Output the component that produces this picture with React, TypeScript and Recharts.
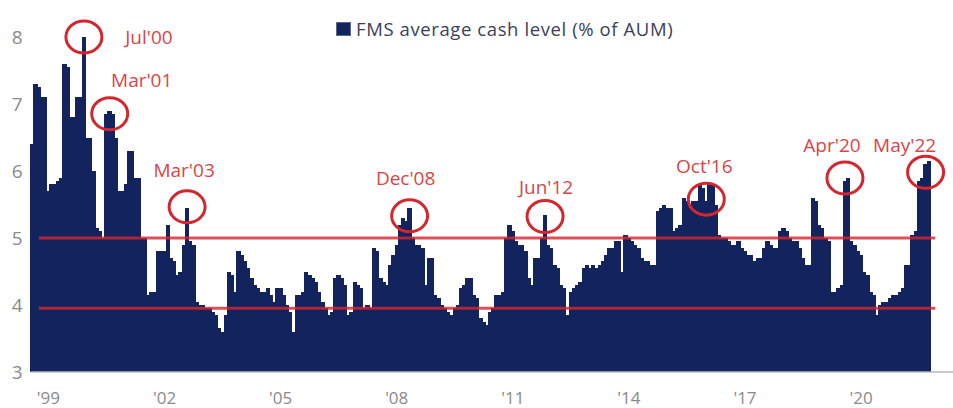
import React from "react";
import { BarChart, Bar, XAxis, YAxis, ReferenceLine, ReferenceDot } from "recharts";

// ---------- DATA ----------
const MONTHS = ["Jan", "Feb", "Mar", "Apr", "May", "Jun", "Jul", "Aug", "Sep", "Oct", "Nov", "Dec"];
const FIRST_YEAR = 1999;
const FIRST_MONTH = 2; // data starts in March 1999
const LAST_AXIS_YEAR = 2022; // axis runs to Dec 2022

const cash1999 = [6.4, 7.3, 7.25, 7.1, 7.1, 5.7, 5.8, 5.8, 5.85, 5.9];
const cash2000 = [7.6, 7.55, 6.8, 6.8, 7.1, 7.1, 8.0, 6.5, 6.5, 6.0, 5.15, 5.1];
const cash2001 = [5.0, 6.85, 6.9, 6.85, 6.5, 5.7, 5.7, 5.8, 6.3, 6.3, 5.9, 5.9];
const cash2002 = [5.0, 5.0, 4.15, 4.2, 4.2, 4.8, 4.8, 4.8, 5.2, 4.7, 4.65, 4.45];
const cash2003 = [4.5, 4.9, 5.45, 4.95, 4.9, 4.05, 4.0, 4.0, 3.95, 3.95, 3.9, 3.85];
const cash2004 = [3.65, 3.6, 3.85, 4.5, 4.45, 4.2, 4.8, 4.75, 4.65, 4.55, 4.4, 4.3];
const cash2005 = [4.25, 4.2, 4.2, 4.25, 4.15, 4.05, 4.25, 4.25, 4.15, 4.0, 3.9, 3.6];
const cash2006 = [4.15, 4.15, 4.2, 4.5, 4.45, 4.4, 4.35, 4.2, 4.05, 3.95, 3.85, 3.9];
const cash2007 = [4.4, 4.45, 4.4, 4.3, 3.85, 3.9, 4.35, 4.3, 4.25, 3.95, 4.0, 3.95];
const cash2008 = [4.85, 4.8, 4.4, 4.35, 4.3, 4.6, 4.75, 4.9, 5.2, 5.3, 5.25, 5.45];
const cash2009 = [5.0, 4.9, 4.9, 4.85, 4.3, 4.7, 4.7, 4.15, 4.1, 4.0, 3.95, 3.9];
const cash2010 = [3.85, 3.95, 4.0, 4.25, 4.3, 4.4, 4.4, 4.15, 4.1, 3.8, 3.75, 3.7];
const cash2011 = [3.9, 3.95, 4.15, 4.15, 4.2, 5.0, 5.2, 5.1, 4.95, 4.9, 4.9, 4.8];
const cash2012 = [4.4, 4.3, 4.7, 4.7, 5.0, 5.35, 4.9, 4.85, 4.6, 4.55, 4.3, 4.25];
const cash2013 = [3.85, 4.2, 4.25, 4.3, 4.35, 4.55, 4.6, 4.55, 4.6, 4.55, 4.6, 4.65];
const cash2014 = [4.75, 4.85, 4.85, 4.95, 4.95, 4.5, 5.05, 5.0, 4.95, 4.9, 4.85, 4.7];
const cash2015 = [4.65, 4.65, 4.6, 4.6, 5.4, 5.45, 5.5, 5.45, 5.45, 5.1, 5.15, 5.2];
const cash2016 = [5.6, 5.55, 5.45, 5.55, 5.55, 5.8, 5.75, 5.55, 5.8, 5.8, 5.5, 5.05];
const cash2017 = [5.0, 5.0, 4.95, 4.9, 4.9, 4.95, 4.85, 4.8, 4.75, 4.75, 4.65, 4.7];
const cash2018 = [4.7, 4.85, 4.95, 4.9, 4.85, 4.85, 5.1, 5.15, 5.1, 5.0, 4.95, 4.95];
const cash2019 = [4.85, 4.7, 4.6, 4.6, 5.6, 5.55, 5.2, 5.15, 5.0, 4.95, 4.2, 4.2];
const cash2020 = [4.25, 4.3, 5.85, 5.9, 4.95, 4.9, 4.8, 4.75, 4.5, 4.45, 4.2, 4.15];
const cash2021 = [3.85, 4.0, 4.05, 4.05, 4.1, 4.15, 4.15, 4.2, 4.25, 4.6, 4.6, 5.05];
const cash2022 = [5.1, 5.85, 5.9, 6.1, 6.15];

const cashByYear = [
  cash1999, cash2000, cash2001, cash2002, cash2003, cash2004, cash2005, cash2006,
  cash2007, cash2008, cash2009, cash2010, cash2011, cash2012, cash2013, cash2014,
  cash2015, cash2016, cash2017, cash2018, cash2019, cash2020, cash2021, cash2022,
];

const tickYears = [1999, 2002, 2005, 2008, 2011, 2014, 2017, 2020];
const tickLabels = ["'99", "'02", "'05", "'08", "'11", "'14", "'17", "'20"];
const TICK_MONTH = 7; // year labels sit mid-year

const yTicks = [3, 4, 5, 6, 7, 8];
const ruleLevels = [5, 3.95];

// circles: month where the circle sits, text shown
const annotationAt = ["Jul'00", "Mar'01", "Mar'03", "Dec'08", "Jun'12", "Aug'16", "Mar'20", "Apr'22"];
const annotationText = ["Jul'00", "Mar'01", "Mar'03", "Dec'08", "Jun'12", "Oct'16", "Apr'20", "May'22"];

const seriesName = "FMS average cash level (% of AUM)";

// ---------- STYLE ----------
const NAVY = "#13235e";
const RED = "#d3262f";
const LABEL_RED = "#d84549";
const GREY = "#8a8a8a";
// [circle y-offset, label dx, label dy] in px
const annotationOffsets: [number, number, number][] = [
  [0, 65, 0],
  [3, 32, -34],
  [-1, -3, -37],
  [8, -4, -38],
  [2, 1, -30],
  [-2, -2, -33],
  [-3, -13, -33],
  [8, -21, -27],
];

// ---------- TABLE ----------
const keyOf = (year: number, m: number) => `${MONTHS[m]}'${String(year % 100).padStart(2, "0")}`;

type Row = { key: string; cash: number | null; tick: string };
const rows: Row[] = [];
for (let year = FIRST_YEAR; year <= LAST_AXIS_YEAR; year++) {
  const vals = cashByYear[year - FIRST_YEAR] || [];
  const startM = year === FIRST_YEAR ? FIRST_MONTH : 0;
  for (let m = startM; m < 12; m++) {
    const v = vals[m - startM];
    const ti = tickYears.indexOf(year);
    rows.push({
      key: keyOf(year, m),
      cash: v === undefined ? null : v,
      tick: ti >= 0 && m === TICK_MONTH ? tickLabels[ti] : "",
    });
  }
}
const tickByKey: Record<string, string> = {};
rows.forEach((r) => (tickByKey[r.key] = r.tick));
const valueOf = (k: string) => rows.find((r) => r.key === k)?.cash ?? 0;

const XTick = (props: any) => {
  const { x, y, payload } = props;
  const lbl = tickByKey[payload.value];
  if (!lbl) return null;
  return (
    <text x={x} y={y + 24} textAnchor="middle" fill={GREY} fontSize={17} fontFamily="Open Sans, Liberation Sans, sans-serif">
      {lbl}
    </text>
  );
};

// bar shape slightly widened so adjacent months touch without seams
const BarShape = (p: any) => {
  if (p.height == null || !isFinite(p.height) || p.height <= 0) return null;
  return <rect x={p.x - 0.6} y={p.y} width={p.width + 1.2} height={p.height} fill={NAVY} shapeRendering="crispEdges" />;
};

const makeShape = (i: number) => (p: any) => {
  const [oy, dx, dy] = annotationOffsets[i];
  const cx = p.cx;
  const cy = p.cy + oy;
  return (
    <g>
      <ellipse cx={cx} cy={cy} rx={18} ry={16} fill="none" stroke={RED} strokeWidth={3} />
      <text
        x={cx + dx}
        y={cy + dy}
        textAnchor="middle"
        dominantBaseline="central"
        fill={LABEL_RED}
        fontSize={19}
        fontFamily="Open Sans, Liberation Sans, sans-serif"
      >
        {annotationText[i]}
      </text>
    </g>
  );
};

export default function App() {
  const firstKey = keyOf(1999, 4);
  const lastKey = keyOf(2022, 6);
  return (
    <div style={{ position: "absolute", left: 0, top: 0, width: 953, height: 408, background: "#fff", overflow: "hidden" }}>
      <BarChart
        width={953}
        height={408}
        data={rows}
        margin={{ top: 3.5, right: 0, bottom: 0, left: 0 }}
        barCategoryGap={0}
        barGap={0}
      >
        <XAxis
          dataKey="key"
          height={36}
          interval={0}
          tickLine={false}
          axisLine={{ stroke: "#b8b8b8", strokeWidth: 1.5 }}
          tick={<XTick />}
        />
        <YAxis
          width={30.7}
          domain={[3, 8.5]}
          ticks={yTicks}
          allowDataOverflow
          axisLine={false}
          tickLine={false}
          tick={{ fill: GREY, fontSize: 19, fontFamily: "Open Sans, Liberation Sans, sans-serif" }}
        />
        <Bar dataKey="cash" name={seriesName} fill={NAVY} shape={BarShape} isAnimationActive={false} />
        {ruleLevels.map((lv) => (
          <ReferenceLine
            key={lv}
            segment={[
              { x: firstKey, y: lv },
              { x: lastKey, y: lv },
            ]}
            stroke={RED}
            strokeOpacity={0.8}
            strokeWidth={3}
          />
        ))}
        {annotationAt.map((k, i) => (
          <ReferenceDot key={k} x={k} y={valueOf(k)} r={18} shape={makeShape(i)} ifOverflow="visible" />
        ))}
      </BarChart>
      <div
        style={{
          position: "absolute",
          left: 336,
          top: 16,
          display: "flex",
          alignItems: "center",
          fontFamily: "Open Sans, Liberation Sans, sans-serif",
          fontSize: 18.5,
          color: "#3b4058",
          whiteSpace: "nowrap",
        }}
      >
        <span
          style={{
            display: "inline-block",
            width: 13,
            height: 12,
            background: NAVY,
            border: "1.5px solid #5a6690",
            marginRight: 5,
          }}
        />
        <span style={{ letterSpacing: 0.6 }}>{seriesName}</span>
      </div>
    </div>
  );
}
